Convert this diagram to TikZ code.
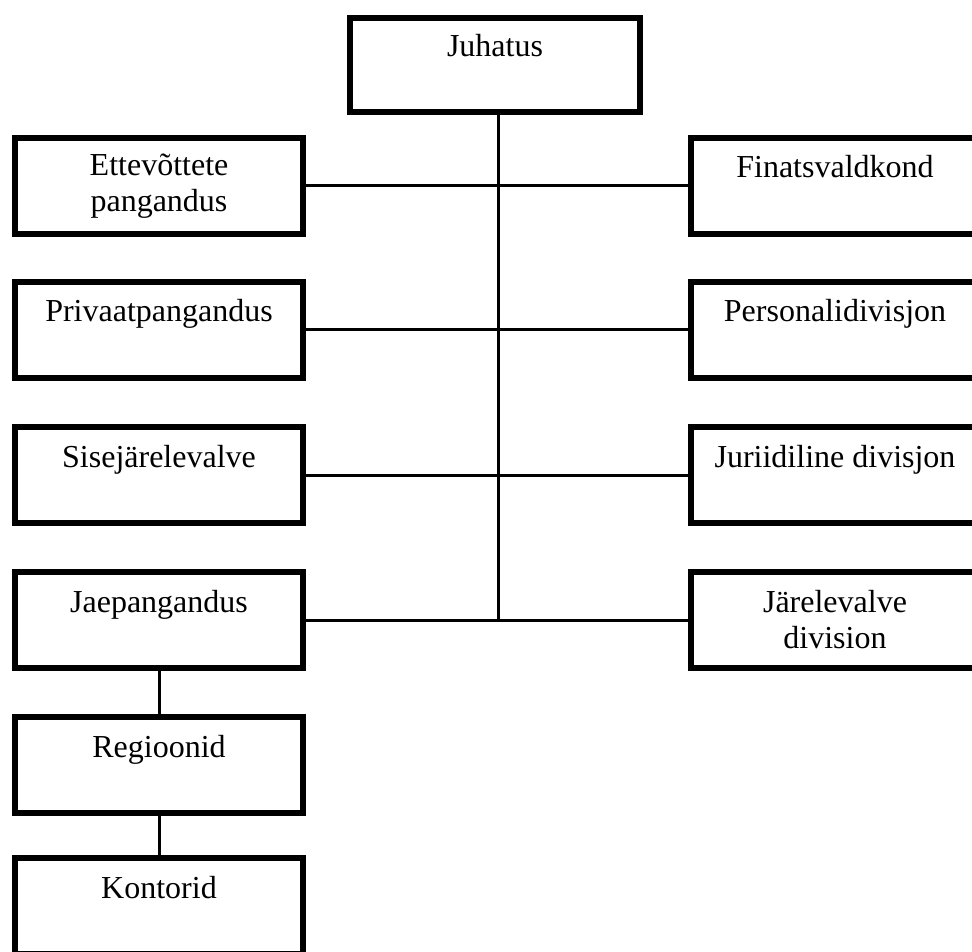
\documentclass[tikz,border=0pt]{standalone}
\usepackage{fontspec}
\setmainfont{Liberation Serif}
\usepackage{tikz}

\begin{document}
\begin{tikzpicture}[x=0.5pt,y=-0.5pt]
        \tikzset{
        unit/.style={rectangle, draw=black, line width=3pt, minimum width=144pt,
        minimum height=48pt, align=center, font=\fontsize{16}{18}\selectfont},
        top/.style={text height=11pt, text depth=19pt},
        ln/.style={-, line width=1.5pt}
        }
        \useasboundingbox (0,0) rectangle (972,951);
        \clip (0,0) rectangle (972,951);

        \node[unit, top, minimum width=145pt, minimum height=47pt] (juhatus) at (495,65) {Juhatus};

        \node[unit] (ettev) at (159,186) {Ettevõttete\\pangandus};
        \node[unit, top] (privaat) at (159,330) {Privaatpangandus};
        \node[unit, top] (sise) at (159,475) {Sisejärelevalve};
        \node[unit, top] (jae) at (159,620) {Jaepangandus};
        \node[unit, top] (regioon) at (159,765) {Regioonid};
        \node[unit, top] (kontor) at (159,906) {Kontorid};

        \node[unit, top] (finats) at (835,186) {Finatsvaldkond};
        \node[unit, top] (personal) at (835,330) {Personalidivisjon};
        \node[unit, top] (juriid) at (835,475) {Juriidiline divisjon};
        \node[unit] (jarele) at (835,620) {Järelevalve\\division};

        \coordinate (hub) at (498,620);

        \draw[ln] (juhatus.south -| hub) edge (hub);
        \draw[ln] (ettev) edge (finats);
        \draw[ln] (privaat) edge (personal);
        \draw[ln] (sise) edge (juriid);
        \draw[ln] (jae) edge (jarele);
        \draw[ln] (jae) edge (regioon);
        \draw[ln] (regioon) edge (kontor);
\end{tikzpicture}
\end{document}
